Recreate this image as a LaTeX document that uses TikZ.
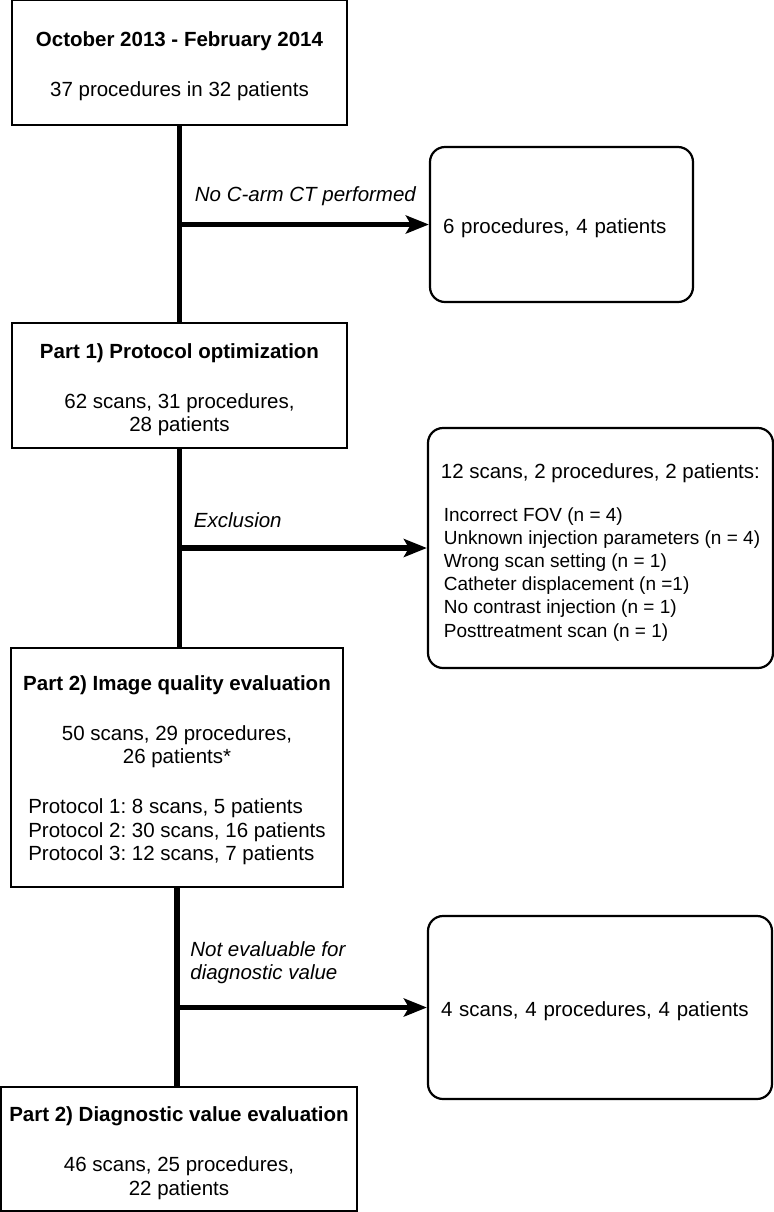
\documentclass[tikz,border=0pt]{standalone}
\usepackage{fontspec}
\setmainfont{Liberation Sans}
\usepackage{tikz}
\usetikzlibrary{arrows.meta}
\frenchspacing
\newcommand{\topgap}{\rule{0pt}{11.5pt}}

\begin{document}
\begin{tikzpicture}[x=0.5pt,y=-0.5pt,
	every node/.style={font=\fontsize{10.25}{11.75}\selectfont},
	box/.style={draw,line width=1pt,inner sep=0pt,align=center},
	sidebox/.style={draw,line width=1.1pt,rounded corners=7.5pt,inner ysep=0pt,align=left},
	trunk/.style={line width=2.7pt},
	branch/.style={line width=2.7pt,-{Stealth[length=11.5pt,width=9pt,inset=2.5pt]}},
	lbl/.style={font=\fontsize{10.25}{11.75}\selectfont\itshape,anchor=west,inner sep=0pt,align=left}]
			\useasboundingbox (0,0) rectangle (774,1212);
			% Main boxes
			\node[box,minimum width=167.5pt,minimum height=62.5pt] (start) at (179.5,62.5) {\topgap\textbf{October 2013 - February 2014}\\[13.25pt]37 procedures in 32 patients};
			\node[box,minimum width=167.5pt,minimum height=62.5pt] (part1) at (179.5,385.5) {\topgap\textbf{Part 1) Protocol optimization}\\[13.25pt]62 scans, 31 procedures,\\28 patients};
			\node[box,minimum width=166pt,minimum height=119.5pt] (part2) at (177,767.5) {\topgap\textbf{Part 2) Image quality evaluation}\\[13.25pt]50 scans, 29 procedures,\\26 patients*\\[13.25pt]\begin{tabular}[t]{@{}l@{}}Protocol 1: 8 scans, 5 patients\\Protocol 2: 30 scans, 16 patients\\Protocol 3: 12 scans, 7 patients\end{tabular}};
			\node[box,minimum width=178pt,minimum height=62pt] (diag) at (179,1149) {\topgap\textbf{Part 2) Diagnostic value evaluation}\\[13.25pt]46 scans, 25 procedures,\\22 patients};
			% Side boxes
			\node[sidebox,text width=118.5pt,inner xsep=6.5pt,minimum height=77.5pt] (nocarm) at (561.5,224.5) {\topgap 6 procedures, 4 patients};
			\node[sidebox,minimum width=172.5pt,minimum height=120pt] (excl) at (600.5,548) {\topgap 12 scans, 2 procedures, 2 patients:\\[9.75pt]
				{\fontsize{9.5}{11.6}\selectfont\hspace*{1.5pt}Incorrect FOV (n = 4)}\\[-0.15pt]
				{\fontsize{9.5}{11.6}\selectfont\hspace*{1.5pt}Unknown injection parameters (n = 4)}\\[-0.15pt]
				{\fontsize{9.5}{11.6}\selectfont\hspace*{1.5pt}Wrong scan setting (n = 1)}\\[-0.15pt]
				{\fontsize{9.5}{11.6}\selectfont\hspace*{1.5pt}Catheter displacement (n =1)}\\[-0.15pt]
				{\fontsize{9.5}{11.6}\selectfont\hspace*{1.5pt}No contrast injection (n = 1)}\\[-0.15pt]
				{\fontsize{9.5}{11.6}\selectfont\hspace*{1.5pt}Posttreatment scan (n = 1)}};
			\node[sidebox,text width=159pt,inner xsep=6.5pt,minimum height=91.5pt] (noteval) at (600,1007.5) {\topgap 4 scans, 4 procedures, 4 patients};
			% Trunk
			\draw[trunk] (start.south) -- (start.south |- part1.north);
			\draw[trunk] (part1.south) -- (part1.south |- part2.north);
			\draw[trunk] (part2.south) -- (part2.south |- diag.north);
			% Branches
			\coordinate (b1) at (start.south |- nocarm.west);
			\coordinate (b2) at (part1.south |- excl.west);
			\coordinate (b3) at (part2.south |- noteval.west);
			\draw[branch] (b1) -- (nocarm.west);
			\draw[branch] (b2) -- (excl.west);
			\draw[branch] (b3) -- (noteval.west);
			\node[lbl,xshift=7.5pt,yshift=14pt] (lbl1) at (b1) {No C-arm CT performed};
			\node[lbl,xshift=7pt,yshift=14pt] (lbl2) at (b2) {Exclusion};
			\node[lbl,xshift=6.5pt,yshift=22.5pt] (lbl3) at (b3) {Not evaluable for\\diagnostic value};
		\end{tikzpicture}
\end{document}
